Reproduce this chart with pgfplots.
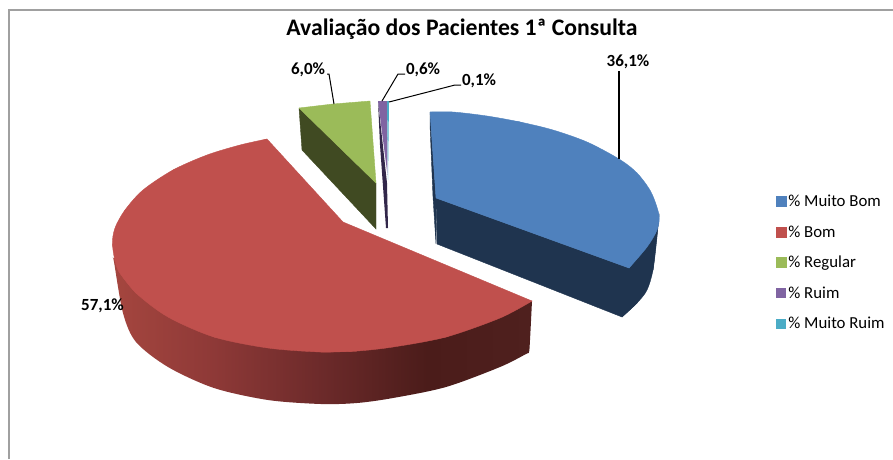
\documentclass[border=0pt]{standalone}
\usepackage{fontspec}
\setmainfont{Carlito}
\usepackage{pgfplots}
\pgfplotsset{compat=1.18}
\definecolor{cblue}{HTML}{4F81BD}
\definecolor{cbluedk}{HTML}{1F344F}
\definecolor{cred}{HTML}{C0504D}
\definecolor{cgreen}{HTML}{9BBB59}
\definecolor{cgreendk}{HTML}{404A22}
\definecolor{cpurple}{HTML}{8064A2}
\definecolor{cpurpledk}{HTML}{32274A}
\definecolor{ccyan}{HTML}{4BACC6}
\definecolor{frame}{HTML}{A0A0A0}
\definecolor{r0}{HTML}{A5463F}
\definecolor{r1}{HTML}{8E3937}
\definecolor{r2}{HTML}{6C2A2A}
\definecolor{r3}{HTML}{4B1C1A}
\definecolor{r4}{HTML}{4F201E}
\pgfdeclarehorizontalshading{redside}{100bp}{color(0bp)=(r0); color(25bp)=(r0); color(37bp)=(r1); color(50bp)=(r2); color(62.5bp)=(r3); color(75bp)=(r4); color(100bp)=(r4)}
\begin{document}
\begin{tikzpicture}
\useasboundingbox (0,0) rectangle (893pt,459pt);
\begin{axis}[
  at={(0,0)}, anchor=south west,
  width=893pt, height=459pt, scale only axis,
  xmin=0, xmax=893, ymin=0, ymax=459, y dir=reverse,
  hide axis, clip=false,
  legend style={at={(axis cs:776,193)}, anchor=north west, draw=none, fill=none,
    inner sep=0pt, outer sep=0pt, font=\fontsize{16.8}{17}\selectfont,
    row sep=13.5pt, cells={anchor=west}, /tikz/every even column/.append style={column sep=6pt}},
  legend image code/.code={\fill[#1] (0pt,-5pt) rectangle (10pt,5pt);},
]
% frame
\addplot[forget plot, frame, line width=1.8pt] coordinates {(9,459) (9,10) (893,10)};

% sides
\addplot[forget plot, draw=none, shading=redside, smooth] coordinates {
  (532,301) (530,340) (529,352) (526,354) (500,367) (446,387) (393,398) (357,403) (321,404)
  (268,400) (214,388) (168,367) (136,342) (123,313) (114,262) (113,258)};
\addplot[forget plot, fill=cbluedk, draw=cbluedk] coordinates {
  (436,198) (629,268) (647,247) (659,215) (653,270) (637,303) (622,317) (437,244) (436,198)};
\addplot[forget plot, fill=cbluedk, draw=cbluedk, smooth] coordinates {
  (659,215) (657,237) (653,270) (647,290) (637,303) (622,317)};
\addplot[forget plot, fill=cbluedk, draw=cbluedk] coordinates {
  (430,112) (436,198) (436,244) (433,197) (430,125) (430,112)};
\addplot[forget plot, fill=cgreendk, draw=cgreendk] coordinates {
  (299,108) (376,183) (376,229) (302,150) (299,108)};
\addplot[forget plot, fill=cpurpledk, draw=none] coordinates {
  (378,101) (387,183) (388,228) (386,228) (380,145) (378,101)};

% top faces
\addplot[fill=cblue, draw=cblue] coordinates {
  (430,112) (520,122) (619,159) (659,215) (629,268) (436,198) (430,112)};
\addlegendentry{\% Muito Bom}
\addplot[forget plot, fill=cblue, draw=cblue, smooth] coordinates {
  (430,112) (453,112) (487,116) (520,122) (553,130) (587,142) (619,159) (637,173) (651,192)
  (659,215) (657,230) (647,247) (629,268)};
\addplot[fill=cred, draw=cred] coordinates {
  (343,222) (267,139) (173,170) (125,210) (112.5,245) (136,293) (214,337) (321,352) (446,337)
  (532,301) (343,222)};
\addlegendentry{\% Bom}
\addplot[forget plot, fill=cred, draw=cred, smooth] coordinates {
  (267,139) (240,145) (207,155) (173,170) (143,190) (125,210) (115,228) (112.5,245)
  (118,270) (136,293)};
\addplot[forget plot, fill=cred, draw=cred, smooth] coordinates {
  (118,270) (136,293) (168,317) (214,337) (268,348) (321,352) (357,351)};
\addplot[forget plot, fill=cred, draw=cred, smooth] coordinates {
  (321,352) (357,351) (393,347) (446,337) (500,318) (532,301)};
\addplot[fill=cgreen, draw=cgreen] coordinates {
  (299,108) (333,104) (370,101) (376,183) (299,108)};
\addlegendentry{\% Regular}
\addplot[fill=cpurple, draw=none] coordinates {
  (378,101) (387,101) (387.5,175) (378,101)};
\addlegendentry{\% Ruim}
\addplot[fill=ccyan, draw=none] coordinates {
  (387,101) (389,101) (388,180) (387,101)};
\addlegendentry{\% Muito Ruim}

% leader lines
\addplot[forget plot, black, line width=1.6pt] coordinates {(619,71) (619,159)};
\addplot[forget plot, black, line width=1pt] coordinates {(389,102) (455,85) (461,85)};
\addplot[forget plot, black, line width=1pt] coordinates {(382,101) (398,74) (405,74)};
\addplot[forget plot, black, line width=1pt] coordinates {(334,104) (329,74) (327,74)};

% labels
\node[font=\fontsize{23.7}{25}\selectfont\bfseries] at (axis cs:462,29) {Avaliação dos Pacientes 1ª Consulta};
\node[font=\fontsize{17}{18}\selectfont\bfseries] at (axis cs:628,62) {36,1\%};
\node[font=\fontsize{17}{18}\selectfont\bfseries] at (axis cs:479,81) {0,1\%};
\node[font=\fontsize{17}{18}\selectfont\bfseries] at (axis cs:423,70) {0,6\%};
\node[font=\fontsize{17}{18}\selectfont\bfseries] at (axis cs:308,70) {6,0\%};
\node[font=\fontsize{17}{18}\selectfont\bfseries] at (axis cs:102.5,306) {57,1\%};
\end{axis}
\end{tikzpicture}
\end{document}
